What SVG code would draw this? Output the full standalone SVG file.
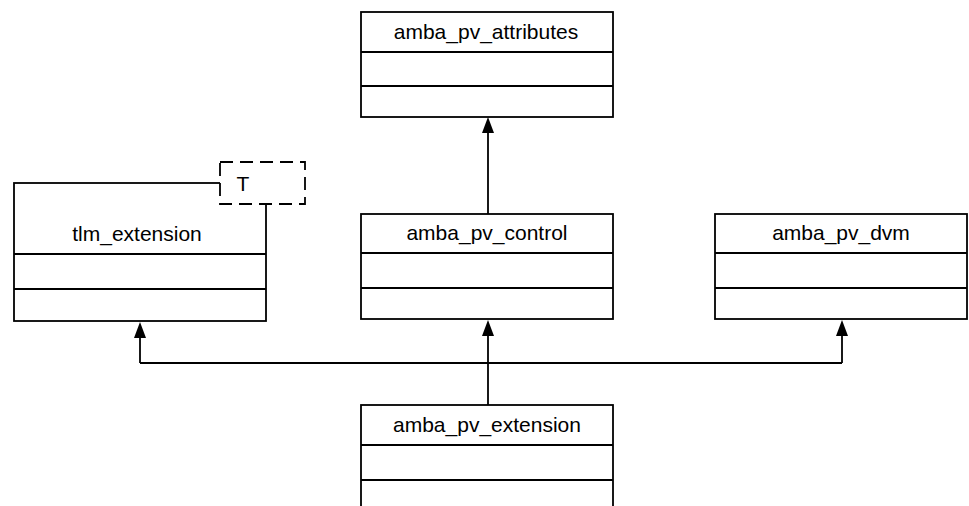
<svg xmlns="http://www.w3.org/2000/svg" width="969" height="506" viewBox="0 0 969 506">
<style>
.box{fill:#fff;stroke:#000;stroke-width:1.8}
.div{stroke:#000;stroke-width:1.8}
.lbl{font-family:"Liberation Sans",Arial,sans-serif;font-size:21px;fill:#000;text-anchor:middle}
.edge{fill:none;stroke:#000;stroke-width:1.8}
.head{fill:#000}
.tpl{fill:#fff;stroke:#000;stroke-width:1.8;stroke-dasharray:13,7}
</style>
<rect width="969" height="506" fill="#fff"/>
<g id="connectors">
<path class="edge" d="M488,214 V130"/>
<path class="edge" d="M488,405 V332"/>
<path class="edge" d="M140,363 H842"/>
<path class="edge" d="M140,363 V334"/>
<path class="edge" d="M842,363 V332"/>
<polygon class="head" points="488,117 482,133 494,133"/>
<polygon class="head" points="488,320 482,336 494,336"/>
<polygon class="head" points="140,322 134,338 146,338"/>
<polygon class="head" points="842,320 836,336 848,336"/>
</g>
<g id="amba_pv_attributes">
<rect class="box" x="361" y="12" width="252" height="105"/>
<line class="div" x1="361" y1="52" x2="613" y2="52"/>
<line class="div" x1="361" y1="86" x2="613" y2="86"/>
<text class="lbl" x="486" y="39">amba_pv_attributes</text>
</g>
<g id="tlm_extension">
<rect class="box" x="14" y="183" width="252" height="138"/>
<line class="div" x1="14" y1="254" x2="266" y2="254"/>
<line class="div" x1="14" y1="289" x2="266" y2="289"/>
<text class="lbl" x="137" y="241">tlm_extension</text>
<rect class="tpl" x="220" y="162" width="85" height="42"/>
<text class="lbl" x="243" y="191">T</text>
</g>
<g id="amba_pv_control">
<rect class="box" x="361" y="214" width="252" height="105"/>
<line class="div" x1="361" y1="253" x2="613" y2="253"/>
<line class="div" x1="361" y1="288" x2="613" y2="288"/>
<text class="lbl" x="487" y="240">amba_pv_control</text>
</g>
<g id="amba_pv_dvm">
<rect class="box" x="715" y="214" width="252" height="105"/>
<line class="div" x1="715" y1="253" x2="967" y2="253"/>
<line class="div" x1="715" y1="288" x2="967" y2="288"/>
<text class="lbl" x="841" y="240">amba_pv_dvm</text>
</g>
<g id="amba_pv_extension">
<rect class="box" x="361" y="405" width="252" height="110"/>
<line class="div" x1="361" y1="445" x2="613" y2="445"/>
<line class="div" x1="361" y1="480" x2="613" y2="480"/>
<text class="lbl" x="487" y="432">amba_pv_extension</text>
</g>
</svg>
